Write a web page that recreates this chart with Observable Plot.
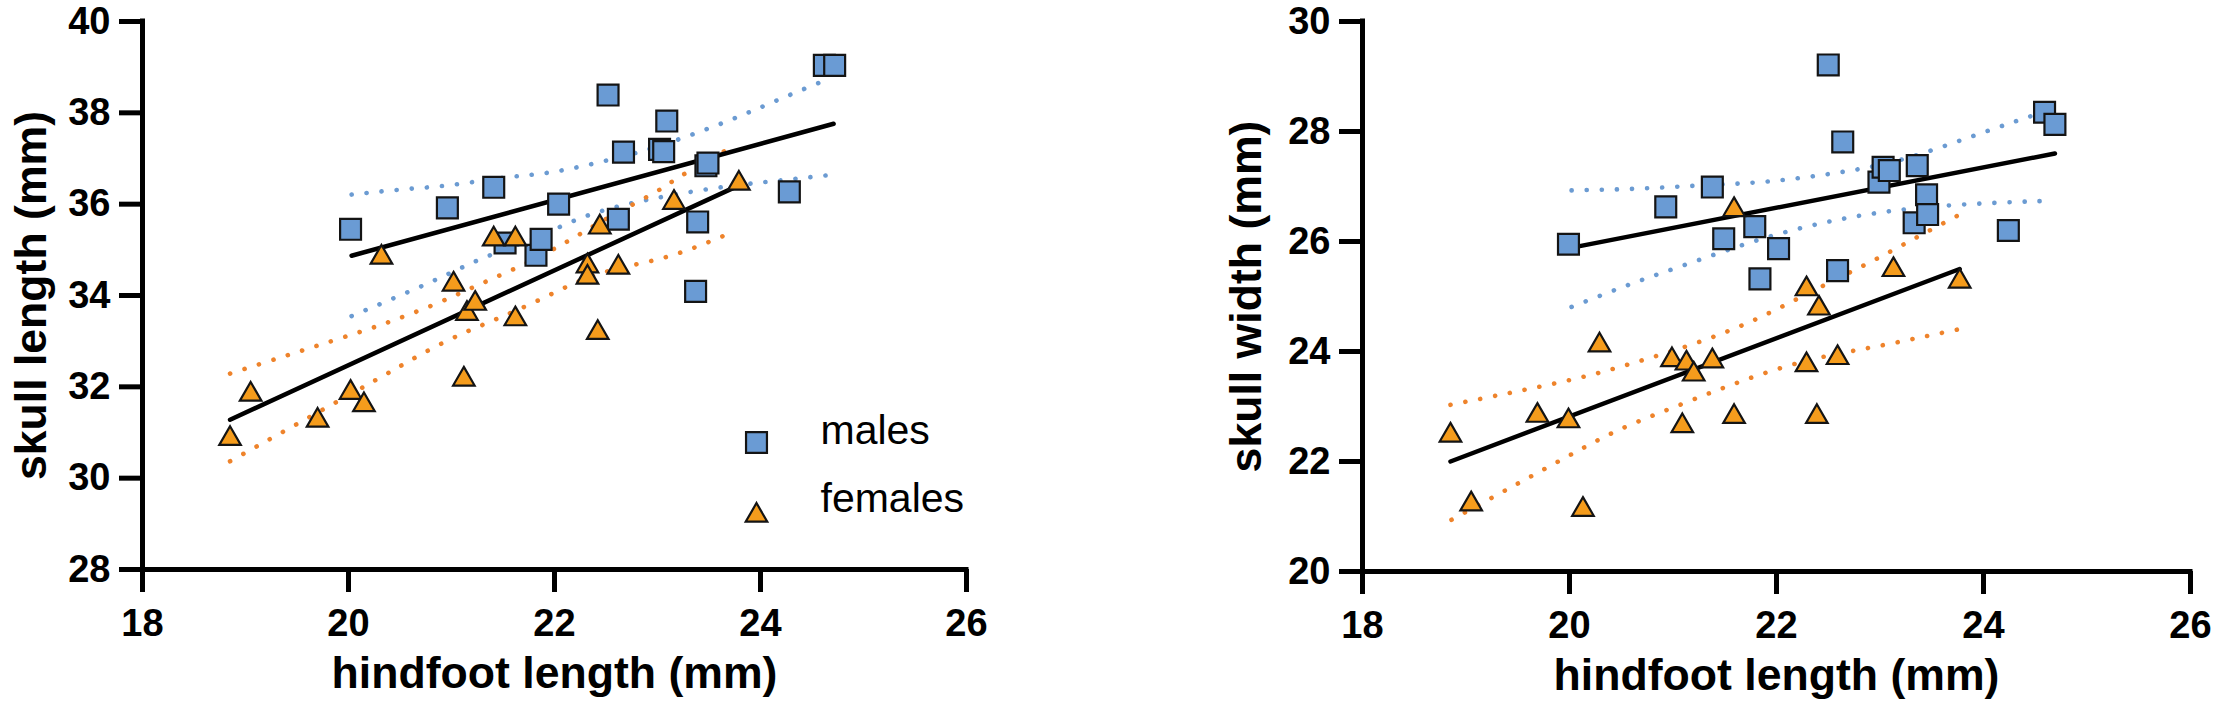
<!DOCTYPE html>
<html>
<head>
<meta charset="utf-8">
<script src="https://cdn.jsdelivr.net/npm/d3@7"></script>
<script src="https://cdn.jsdelivr.net/npm/@observablehq/plot@0.6"></script>
<style>
  body { margin: 0; background: #fff; }
  #wrap { display: flex; width: 2215px; }
  svg text { font-family: "Liberation Sans", Arial, Helvetica, sans-serif; }
</style>
</head>
<body>
<div id="wrap"></div>
<script>
// ---------- shared ticks ----------
const xTicks = [18, 20, 22, 24, 26];
const yTicksLength = [28, 30, 32, 34, 36, 38, 40];
const yTicksWidth = [20, 22, 24, 26, 28, 30];
const groupLabels = ["males", "females"];

// ---------- left panel: skull length ----------
const maleHindfootL = [20.02, 20.96, 21.41, 21.52, 21.82, 21.87, 22.04, 22.52, 22.62, 22.67, 23.02, 23.06, 23.09, 23.37, 23.39, 23.47, 23.49, 24.28, 24.62, 24.72];
const maleSkullLength = [35.45, 35.92, 36.37, 35.15, 34.88, 35.23, 36.0, 38.39, 35.67, 37.14, 37.2, 37.15, 37.82, 34.09, 35.61, 36.84, 36.9, 36.27, 39.04, 39.04];
const femaleHindfootL = [18.85, 19.05, 19.7, 20.02, 20.15, 20.32, 21.02, 21.12, 21.15, 21.23, 21.41, 21.62, 21.62, 22.32, 22.32, 22.42, 22.44, 22.62, 23.16, 23.79];
const femaleSkullLength = [30.93, 31.9, 31.33, 31.94, 31.67, 34.9, 34.31, 32.23, 33.67, 33.89, 35.3, 35.3, 33.55, 34.71, 34.46, 33.25, 35.56, 34.68, 36.1, 36.52];

const maleFitLX = [20.03, 24.71], maleFitLY = [34.87, 37.76];
const femaleFitLX = [18.85, 23.78], femaleFitLY = [31.28, 36.4];

const maleUpperLX = [20.03, 20.51, 21.0, 21.47, 21.94, 22.42, 22.88, 23.33, 23.78, 24.22, 24.68];
const maleUpperLY = [36.21, 36.32, 36.42, 36.57, 36.69, 36.91, 37.18, 37.52, 37.91, 38.33, 38.76];
const maleLowerLX = [20.03, 20.48, 20.92, 21.35, 21.81, 22.26, 22.71, 23.17, 23.65, 24.11, 24.68];
const maleLowerLY = [33.55, 33.98, 34.42, 34.86, 35.26, 35.70, 36.0, 36.21, 36.38, 36.5, 36.64];
const femaleUpperLX = [18.85, 19.93, 20.38, 20.83, 21.27, 21.71, 22.13, 22.52, 22.97, 23.23, 23.72];
const femaleUpperLY = [32.29, 33.07, 33.41, 33.8, 34.24, 34.69, 35.19, 35.70, 36.25, 36.62, 37.25];
const femaleLowerLX = [18.85, 20.1, 20.53, 20.95, 21.39, 21.84, 22.28, 22.71, 23.17, 23.72];
const femaleLowerLY = [30.37, 31.94, 32.49, 33.0, 33.44, 33.89, 34.35, 34.64, 34.9, 35.38];

// ---------- right panel: skull width ----------
const maleHindfootR = [19.99, 20.93, 21.38, 21.49, 21.79, 21.84, 22.02, 22.5, 22.59, 22.64, 22.99, 23.03, 23.09, 23.33, 23.36, 23.45, 23.46, 24.24, 24.59, 24.69];
const maleSkullWidth = [25.95, 26.63, 26.99, 26.05, 26.27, 25.32, 25.87, 29.21, 25.47, 27.81, 27.08, 27.35, 27.29, 26.34, 27.38, 26.85, 26.49, 26.2, 28.35, 28.13];
const femaleHindfootR = [18.85, 19.05, 19.69, 19.99, 20.13, 20.29, 20.99, 21.09, 21.13, 21.2, 21.38, 21.59, 21.59, 22.29, 22.29, 22.39, 22.41, 22.59, 23.13, 23.77];
const femaleSkullWidth = [22.53, 21.28, 22.89, 22.79, 21.18, 24.17, 23.9, 22.7, 23.84, 23.64, 23.88, 26.63, 22.87, 25.19, 23.81, 22.87, 24.84, 23.94, 25.54, 25.33];

const maleFitRX = [20.0, 24.69], maleFitRY = [25.88, 27.6];
const femaleFitRX = [18.85, 23.77], femaleFitRY = [22.0, 25.5];

const maleUpperRX = [20.02, 20.65, 21.28, 21.91, 22.55, 23.17, 23.78, 24.24, 24.68];
const maleUpperRY = [26.93, 26.96, 27.02, 27.09, 27.24, 27.47, 27.84, 28.14, 28.42];
const maleLowerRX = [20.02, 20.61, 21.2, 21.81, 22.43, 23.05, 23.7, 24.33, 24.68];
const maleLowerRY = [24.81, 25.24, 25.63, 26.02, 26.33, 26.54, 26.66, 26.72, 26.74];
const femaleUpperRX = [18.85, 19.93, 20.56, 21.17, 21.77, 22.34, 22.89, 23.33, 23.75];
const femaleUpperRY = [23.03, 23.45, 23.76, 24.12, 24.56, 25.09, 25.61, 26.05, 26.47];
const femaleLowerRX = [18.86, 19.96, 20.52, 21.12, 21.72, 22.33, 22.96, 23.75];
const femaleLowerRY = [20.94, 22.07, 22.61, 23.07, 23.5, 23.85, 24.09, 24.4];

// ---------- styles ----------
const maleFill = "#6a9bd4";
const femaleFill = "#f59c1c";
const maleDot = "#6b9bd2";
const femaleDot = "#ee832b";
const markStroke = "#141414";

const zip = (xs, ys) => xs.map((x, i) => ({x, y: ys[i]}));

function dotted(xs, ys, color) {
  return Plot.line(zip(xs, ys), {
    x: "x", y: "y", curve: "natural", stroke: color, strokeWidth: 4.6,
    strokeDasharray: "0.1 15", strokeLinecap: "round"
  });
}

function panel(cfg) {
  const marks = [
    dotted(cfg.mUx, cfg.mUy, maleDot),
    dotted(cfg.mLx, cfg.mLy, maleDot),
    dotted(cfg.fUx, cfg.fUy, femaleDot),
    dotted(cfg.fLx, cfg.fLy, femaleDot),
    Plot.line(zip(cfg.mFx, cfg.mFy), {x: "x", y: "y", stroke: "#000", strokeWidth: 4.5}),
    Plot.line(zip(cfg.fFx, cfg.fFy), {x: "x", y: "y", stroke: "#000", strokeWidth: 4.5}),
    Plot.dot(zip(cfg.mx, cfg.my), {x: "x", y: "y", symbol: "square", r: 11.8, fill: maleFill, stroke: markStroke, strokeWidth: 2.2}),
    Plot.dot(zip(cfg.fx, cfg.fy), {x: "x", y: "y", symbol: "triangle", r: 8.0, dy: 3, fill: femaleFill, stroke: markStroke, strokeWidth: 2.2}),
    Plot.ruleX([cfg.xDomain[0]], {stroke: "#000", strokeWidth: 5, strokeLinecap: "square"}),
    Plot.ruleY([cfg.yDomain[0]], {stroke: "#000", strokeWidth: 5, strokeLinecap: "square"}),
    Plot.axisX({ticks: xTicks, tickSize: 23, tickPadding: 17, stroke: "#000", strokeWidth: 5, fill: "#000",
      fontSize: 38, fontWeight: "bold", label: null, tickFormat: d => String(d)}),
    Plot.axisY({ticks: cfg.yTicks, tickSize: 23, tickPadding: 9, stroke: "#000", strokeWidth: 5, fill: "#000",
      fontSize: 38, fontWeight: "bold", label: null, tickFormat: d => String(d)}),
    Plot.text([cfg.xLabel], {text: d => d, frameAnchor: "bottom", textAnchor: "middle", dy: 118, fontSize: 44.6, fontWeight: "bold", fill: "#000"}),
    Plot.text([cfg.yLabel], {text: d => d, frameAnchor: "left", textAnchor: "middle", dx: cfg.yLabelDx, rotate: -90, fontSize: 44.6, fontWeight: "bold", fill: "#000"})
  ];
  if (cfg.legend) {
    marks.push(
      Plot.dot([groupLabels[0]], {frameAnchor: "bottom-right", dx: -210, dy: -127, symbol: "square", r: 11.8, fill: maleFill, stroke: markStroke, strokeWidth: 2.2}),
      Plot.dot([groupLabels[1]], {frameAnchor: "bottom-right", dx: -210, dy: -54, symbol: "triangle", r: 8.0, fill: femaleFill, stroke: markStroke, strokeWidth: 2.2}),
      Plot.text([groupLabels[0]], {text: d => d, frameAnchor: "bottom-right", dx: -146, dy: -126, textAnchor: "start", fontSize: 41, fill: "#000"}),
      Plot.text([groupLabels[1]], {text: d => d, frameAnchor: "bottom-right", dx: -146, dy: -58, textAnchor: "start", fontSize: 41, fill: "#000"})
    );
  }
  return Plot.plot({
    width: cfg.width, height: 722,
    marginLeft: cfg.ml, marginRight: cfg.mr, marginTop: 21, marginBottom: cfg.mb,
    style: {background: "#fff", overflow: "visible", fontFamily: "'Liberation Sans', Arial, sans-serif"},
    x: {domain: cfg.xDomain},
    y: {domain: cfg.yDomain},
    marks
  });
}

const wrap = document.getElementById("wrap");
wrap.appendChild(panel({
  width: 1107, ml: 142, mr: 141, mb: 153,
  xDomain: [18, 26], yDomain: [28, 40], yTicks: yTicksLength,
  mx: maleHindfootL, my: maleSkullLength, fx: femaleHindfootL, fy: femaleSkullLength,
  mFx: maleFitLX, mFy: maleFitLY, fFx: femaleFitLX, fFy: femaleFitLY,
  mUx: maleUpperLX, mUy: maleUpperLY, mLx: maleLowerLX, mLy: maleLowerLY,
  fUx: femaleUpperLX, fUy: femaleUpperLY, fLx: femaleLowerLX, fLy: femaleLowerLY,
  xLabel: "hindfoot length (mm)", yLabel: "skull length (mm)", yLabelDx: -111, legend: true
}));
wrap.appendChild(panel({
  width: 1108, ml: 255, mr: 25, mb: 151,
  xDomain: [18, 26], yDomain: [20, 30], yTicks: yTicksWidth,
  mx: maleHindfootR, my: maleSkullWidth, fx: femaleHindfootR, fy: femaleSkullWidth,
  mFx: maleFitRX, mFy: maleFitRY, fFx: femaleFitRX, fFy: femaleFitRY,
  mUx: maleUpperRX, mUy: maleUpperRY, mLx: maleLowerRX, mLy: maleLowerRY,
  fUx: femaleUpperRX, fUy: femaleUpperRY, fLx: femaleLowerRX, fLy: femaleLowerRY,
  xLabel: "hindfoot length (mm)", yLabel: "skull width (mm)", yLabelDx: -116, legend: false
}));
</script>
</body>
</html>
